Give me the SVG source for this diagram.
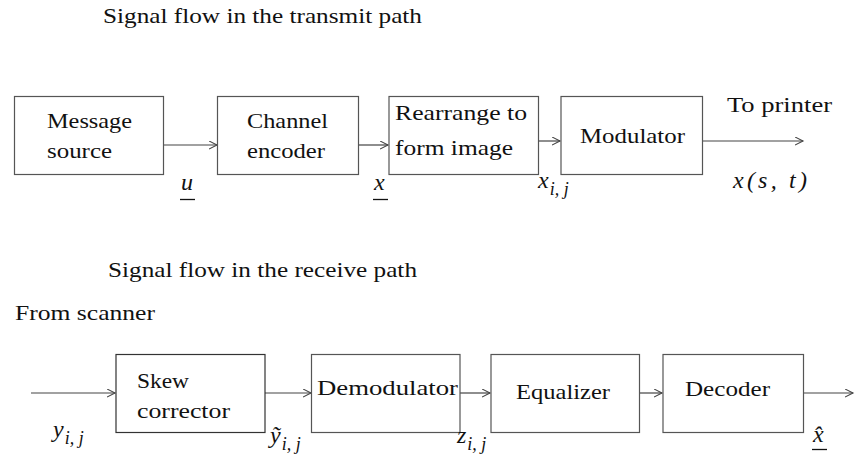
<svg xmlns="http://www.w3.org/2000/svg" width="858" height="461" viewBox="0 0 858 461">
<style>
.box{fill:#fff;stroke:#555;stroke-width:1.2}
.box2{fill:#fff;stroke:#333;stroke-width:1.2}
.t{font-size:22px;fill:#111}
.m{font-style:italic;font-size:24px;fill:#111}
.s{font-size:18px}
.c{stroke:#444;stroke-width:1.2;fill:none;marker-end:url(#ah)}
.ul{stroke:#111;stroke-width:1.3}
</style>
<defs>
<marker id="ah" markerWidth="10" markerHeight="10" refX="8" refY="4" orient="auto" markerUnits="userSpaceOnUse">
<path d="M0,0 L8,4 L0,8" fill="none" stroke="#444" stroke-width="1.1"/>
</marker>
</defs>
<rect width="858" height="461" fill="#fff"/>
<g font-family="Liberation Serif, DejaVu Serif, serif">
<text class="t" x="103" y="23" textLength="319" lengthAdjust="spacingAndGlyphs">Signal flow in the transmit path</text>
<text class="t" x="108" y="277" textLength="309" lengthAdjust="spacingAndGlyphs">Signal flow in the receive path</text>
<text class="t" x="15" y="320" textLength="140" lengthAdjust="spacingAndGlyphs">From scanner</text>

<g id="connectors">
<line class="c" x1="163" y1="145" x2="217" y2="145"/>
<line class="c" x1="358" y1="145" x2="388" y2="145"/>
<line class="c" x1="538" y1="141" x2="560" y2="141"/>
<line class="c" x1="702" y1="141" x2="803" y2="141"/>
<line class="c" x1="31" y1="393" x2="115" y2="393"/>
<line class="c" x1="265" y1="393" x2="311" y2="393"/>
<line class="c" x1="460" y1="393" x2="490" y2="393"/>
<line class="c" x1="639" y1="393" x2="662" y2="393"/>
<line class="c" x1="803" y1="393" x2="853" y2="393"/>
</g>

<g id="message-source">
<rect class="box" x="14.5" y="96.5" width="149" height="78"/>
<text class="t" x="47" y="128" textLength="85" lengthAdjust="spacingAndGlyphs">Message</text>
<text class="t" x="47" y="158" textLength="65" lengthAdjust="spacingAndGlyphs">source</text>
</g>
<g id="channel-encoder">
<rect class="box" x="217.5" y="96.5" width="141" height="78"/>
<text class="t" x="247" y="128" textLength="81" lengthAdjust="spacingAndGlyphs">Channel</text>
<text class="t" x="247" y="158" textLength="78" lengthAdjust="spacingAndGlyphs">encoder</text>
</g>
<g id="rearrange">
<rect class="box" x="389" y="96.5" width="149.5" height="78"/>
<text class="t" x="395" y="120" textLength="132" lengthAdjust="spacingAndGlyphs">Rearrange to</text>
<text class="t" x="395" y="155" textLength="118" lengthAdjust="spacingAndGlyphs">form image</text>
</g>
<g id="modulator">
<rect class="box" x="561" y="96.5" width="141.5" height="78"/>
<text class="t" x="580" y="143" textLength="105" lengthAdjust="spacingAndGlyphs">Modulator</text>
</g>
<text class="t" x="727" y="112" textLength="105" lengthAdjust="spacingAndGlyphs">To printer</text>

<g id="skew-corrector">
<rect class="box2" x="116" y="354.5" width="149" height="78"/>
<text class="t" x="137" y="388" textLength="52" lengthAdjust="spacingAndGlyphs">Skew</text>
<text class="t" x="137" y="418" textLength="93" lengthAdjust="spacingAndGlyphs">corrector</text>
</g>
<g id="demodulator">
<rect class="box" x="311.5" y="354.5" width="148.5" height="78"/>
<text class="t" x="317" y="395" textLength="141" lengthAdjust="spacingAndGlyphs">Demodulator</text>
</g>
<g id="equalizer">
<rect class="box" x="491" y="354.5" width="148.5" height="78"/>
<text class="t" x="516" y="399" textLength="94" lengthAdjust="spacingAndGlyphs">Equalizer</text>
</g>
<g id="decoder">
<rect class="box" x="663" y="354.5" width="140.5" height="78"/>
<text class="t" x="685" y="396" textLength="85" lengthAdjust="spacingAndGlyphs">Decoder</text>
</g>

<g id="labels">
<text class="m" x="181" y="190">u</text>
<line class="ul" x1="180" y1="199.5" x2="195" y2="199.5"/>
<text class="m" x="374" y="190">x</text>
<line class="ul" x1="373" y1="199.5" x2="388" y2="199.5"/>
<text class="m" x="538" y="188">x<tspan class="s" dx="1" dy="7">i, j</tspan></text>
<text class="m" x="733" y="188" textLength="74" lengthAdjust="spacing">x(s, t)</text>
<text class="m" x="53" y="437">y<tspan class="s" dx="1" dy="7">i, j</tspan></text>
<text class="m" x="270" y="443">ỹ<tspan class="s" dx="1" dy="7">i, j</tspan></text>
<text class="m" x="457" y="443">z<tspan class="s" dx="1" dy="7">i, j</tspan></text>
<text class="m" x="813" y="442">x̂</text>
<line class="ul" x1="812" y1="449.5" x2="827" y2="449.5"/>
</g>
</g>
</svg>
